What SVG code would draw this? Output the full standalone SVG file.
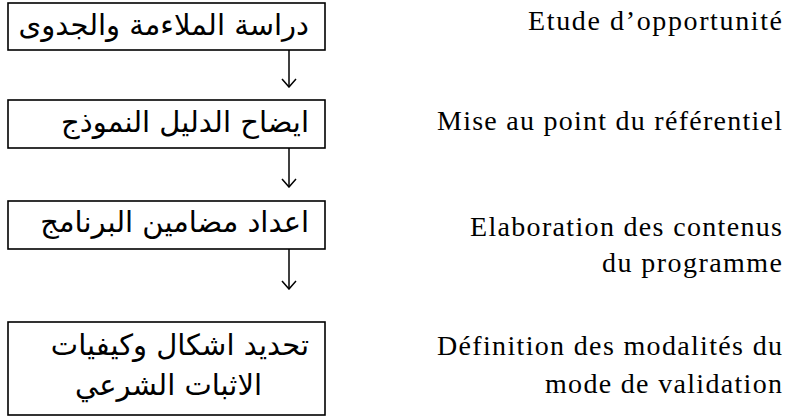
<svg xmlns="http://www.w3.org/2000/svg" width="793" height="419" viewBox="0 0 793 419">
<style>
.box{fill:#fff;stroke:#000;stroke-width:1.6}
.ar{font-family:"DejaVu Sans",sans-serif;font-size:29px;fill:#000}
.fr{font-family:"Liberation Serif",serif;font-size:28px;fill:#000;text-anchor:end}
.con{stroke:#000;stroke-width:1.5;fill:none}
</style>
<defs>
<marker id="ah" viewBox="0 0 10 16" refX="9" refY="8" markerWidth="10" markerHeight="16" markerUnits="userSpaceOnUse" orient="auto">
<path d="M1,1 L9,8 L1,15" fill="none" stroke="#000" stroke-width="1.5"/>
</marker>
</defs>
<rect width="793" height="419" fill="#fff"/>
<g id="n1">
<rect class="box" x="8" y="3" width="317" height="47"/>
<text class="ar" x="309" y="35" text-anchor="end">دراسة الملاءمة والجدوى</text>
</g>
<g id="n2">
<rect class="box" x="8" y="100" width="317" height="48"/>
<text class="ar" x="309" y="132" text-anchor="end">ايضاح الدليل النموذج</text>
</g>
<g id="n3">
<rect class="box" x="8" y="201" width="317" height="48"/>
<text class="ar" x="309" y="232" text-anchor="end">اعداد مضامين البرنامج</text>
</g>
<g id="n4">
<rect class="box" x="8" y="322" width="317" height="93"/>
<text class="ar" x="309" y="355" text-anchor="end">تحديد اشكال وكيفيات</text>
<text class="ar" x="75" y="395" text-anchor="start">الاثبات الشرعي</text>
</g>
<g id="labels">
<text class="fr" x="782" y="30" textLength="254" lengthAdjust="spacing">Etude d’opportunité</text>
<text class="fr" x="782" y="130" textLength="345" lengthAdjust="spacing">Mise au point du référentiel</text>
<text class="fr" x="782" y="236" textLength="312" lengthAdjust="spacing">Elaboration des contenus</text>
<text class="fr" x="782" y="272" textLength="180" lengthAdjust="spacing">du programme</text>
<text class="fr" x="782" y="355" textLength="345" lengthAdjust="spacing">Définition des modalités du</text>
<text class="fr" x="782" y="393" textLength="237" lengthAdjust="spacing">mode de validation</text>
</g>
<g id="connectors">
<line class="con" x1="289" y1="50" x2="289" y2="87" marker-end="url(#ah)"/>
<line class="con" x1="289" y1="148" x2="289" y2="187" marker-end="url(#ah)"/>
<line class="con" x1="289" y1="249" x2="289" y2="289" marker-end="url(#ah)"/>
</g>
</svg>
